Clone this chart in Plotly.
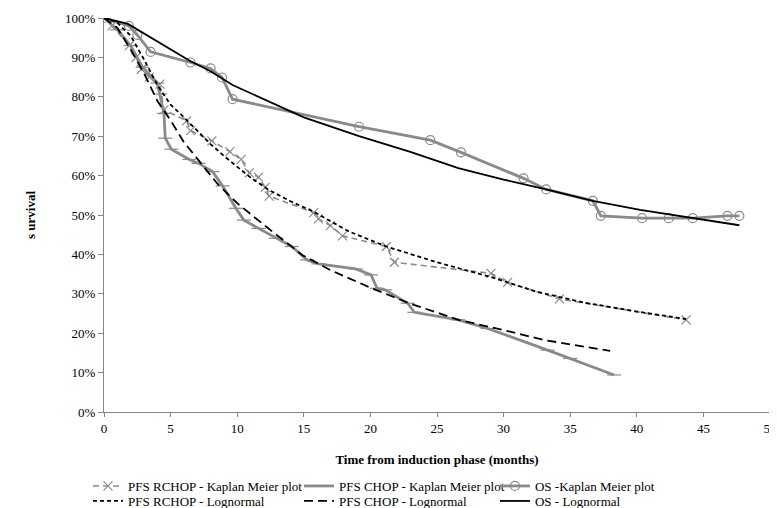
import plotly.graph_objects as go

# PFS RCHOP - Kaplan Meier
rchop_km_x = [0, 0.6, 1.9, 2.4, 2.8, 3.4, 4.2, 4.5, 6.2, 6.5, 8.1, 9.45, 10.3, 10.9, 11.6, 12.1, 12.4,
              15.75, 16.1, 17.0, 17.9, 21.2, 21.8, 29.05, 30.3, 34.2, 43.7]
rchop_km_y = [100, 98, 93, 90, 87, 85, 83.2, 76.7, 73.9, 71.4, 68.8, 66.1, 64.1, 60.7, 59.6, 57.0, 54.8,
              50.6, 49.0, 47.3, 44.7, 42.0, 38.0, 35.2, 32.9, 28.7, 23.4]

# PFS CHOP - Kaplan Meier
chop_km_x = [0, 1, 2, 2.9, 4.0, 4.2, 4.5, 4.6, 5.05, 6.4, 7.1, 8.15, 8.9, 9.9, 10.5, 11.6, 12.9, 14.1,
             15.25, 16.1, 18.9, 20.05, 20.5, 21.1, 22.8, 23.3, 26.6, 28.8, 33.3, 35.0, 38.3]
chop_km_y = [100, 97, 93, 87.5, 83.5, 80.7, 75.8, 69.5, 66.7, 64.1, 63.1, 61.0, 57.4, 51.7, 48.7, 46.6, 44.1, 42.0,
             38.6, 37.6, 36.3, 34.8, 31.4, 31.0, 27.6, 25.3, 23.4, 21.2, 15.7, 13.6, 9.4]

# OS - Kaplan Meier
os_km_x = [0, 1.87, 2.5, 3.5, 6.5, 8.0, 8.86, 9.65, 19.15, 24.5, 26.8, 31.5, 33.2, 36.7, 37.3, 40.4, 42.4,
           44.2, 46.8, 47.7]
os_km_y = [100, 98.0, 95.7, 91.4, 88.7, 87.2, 84.9, 79.4, 72.4, 69.0, 65.9, 59.3, 56.5, 53.6, 49.8, 49.2, 49.2,
           49.2, 49.8, 49.8]

# PFS RCHOP - Lognormal
rchop_ln_x = [0, 1, 2, 3, 4, 5, 6, 7, 8, 9, 10, 11, 12.4, 14, 15.75, 18.4, 21.2, 25, 29, 32.5, 36, 40, 43.7]
rchop_ln_y = [100, 98.8, 95.5, 89.5, 83, 78, 74.8, 71.3, 68, 65, 62.3, 59.5, 56.3, 53.5, 50.8, 45.8, 42, 38,
              34.3, 30.5, 27.8, 25.5, 23.6]

# PFS CHOP - Lognormal
chop_ln_x = [0, 1, 2, 3, 4, 5, 6, 7.2, 8.5, 10, 12, 14.9, 17, 20.1, 23, 26.6, 30, 33, 36.6, 38]
chop_ln_y = [100, 97.5, 92, 86, 79, 74, 68.5, 63.5, 58, 53, 47.5, 39.8, 36, 31.4, 27.5, 23.4, 20.8, 18.3,
             16.2, 15.5]

# OS - Lognormal
os_ln_x = [0, 1.8, 6.4, 8, 9.65, 11.6, 15, 19.15, 23, 26.6, 30, 33.2, 36.7, 40.25, 44, 47.7]
os_ln_y = [100, 98.5, 89.2, 86.5, 83, 80, 74.8, 70.0, 66, 61.9, 59, 56.5, 53.6, 51.3, 49.3, 47.4]

x_ticks = [0, 5, 10, 15, 20, 25, 30, 35, 40, 45, 50]
y_ticks = [0, 10, 20, 30, 40, 50, 60, 70, 80, 90, 100]
y_tick_text = [f"{v}%" for v in y_ticks]

GRAY = "#8a8a8a"
FONT = "Liberation Serif"
FS = 13

fig = go.Figure()

fig.add_trace(go.Scatter(
    x=rchop_km_x, y=rchop_km_y, mode="lines+markers", name="PFS RCHOP - Kaplan Meier plot",
    line=dict(color=GRAY, width=1.6, dash="6px,4px"),
    marker=dict(symbol="x-thin-open", size=9, color=GRAY, line=dict(color=GRAY, width=1.2)),
    legend="legend",
))
fig.add_trace(go.Scatter(
    x=chop_km_x, y=chop_km_y, mode="lines+markers", name="PFS CHOP - Kaplan Meier plot",
    line=dict(color=GRAY, width=2.8),
    marker=dict(symbol="line-ew-open", size=10, color=GRAY, line=dict(color=GRAY, width=1.2)),
    legend="legend2",
))
fig.add_trace(go.Scatter(
    x=os_km_x, y=os_km_y, mode="lines+markers", name="OS -Kaplan Meier plot",
    line=dict(color=GRAY, width=2.8),
    marker=dict(symbol="circle-open", size=9, color=GRAY, line=dict(color=GRAY, width=1.2)),
    legend="legend3",
))
fig.add_trace(go.Scatter(
    x=rchop_ln_x, y=rchop_ln_y, mode="lines", name="PFS RCHOP - Lognormal",
    line=dict(color="black", width=1.8, dash="4px,3px"),
    legend="legend4",
))
fig.add_trace(go.Scatter(
    x=chop_ln_x, y=chop_ln_y, mode="lines", name="PFS CHOP - Lognormal",
    line=dict(color="black", width=1.8, dash="9px,5px"),
    legend="legend5",
))
fig.add_trace(go.Scatter(
    x=os_ln_x, y=os_ln_y, mode="lines", name="OS - Lognormal",
    line=dict(color="black", width=1.8),
    legend="legend6",
))

col_x = [-0.024, 0.2928, 0.587]
row_y = [-0.1878, -0.2259]


def leg(x, y):
    return dict(
        orientation="v", x=x, xanchor="left", y=y, yanchor="middle",
        font=dict(family=FONT, size=FS, color="black"),
        itemwidth=30, bgcolor="rgba(0,0,0,0)", borderwidth=0,
    )


# the page body adds an 8px offset, so the figure is 8px smaller and margins shifted
fig.update_layout(
    width=769, height=500,
    margin=dict(l=96, r=7, t=10, b=96, autoexpand=False),
    paper_bgcolor="white", plot_bgcolor="white",
    font=dict(family=FONT, size=FS, color="black"),
    showlegend=True,
    legend=leg(col_x[0], row_y[0]),
    legend2=leg(col_x[1], row_y[0]),
    legend3=leg(col_x[2], row_y[0]),
    legend4=leg(col_x[0], row_y[1]),
    legend5=leg(col_x[1], row_y[1]),
    legend6=leg(col_x[2], row_y[1]),
)

fig.update_xaxes(
    range=[0, 50], tickvals=x_ticks, ticktext=[str(v) for v in x_ticks],
    showline=True, linecolor="#868686", linewidth=1,
    ticks="outside", ticklen=4, tickcolor="#868686",
    showgrid=False, zeroline=False, automargin=False, ticklabeloverflow="allow",
    title=dict(text="<b>Time from induction phase (months)</b>", font=dict(family=FONT, size=FS), standoff=20),
    tickfont=dict(family=FONT, size=FS),
)
fig.update_yaxes(
    range=[0, 100], tickvals=y_ticks, ticktext=y_tick_text,
    showline=True, linecolor="#868686", linewidth=1,
    ticks="outside", ticklen=5, tickcolor="#868686",
    showgrid=False, zeroline=False, automargin=False,
    title=dict(text="<b>s urvival</b>", font=dict(family=FONT, size=FS), standoff=26),
    tickfont=dict(family=FONT, size=FS),
)

fig.write_html("out.html")
